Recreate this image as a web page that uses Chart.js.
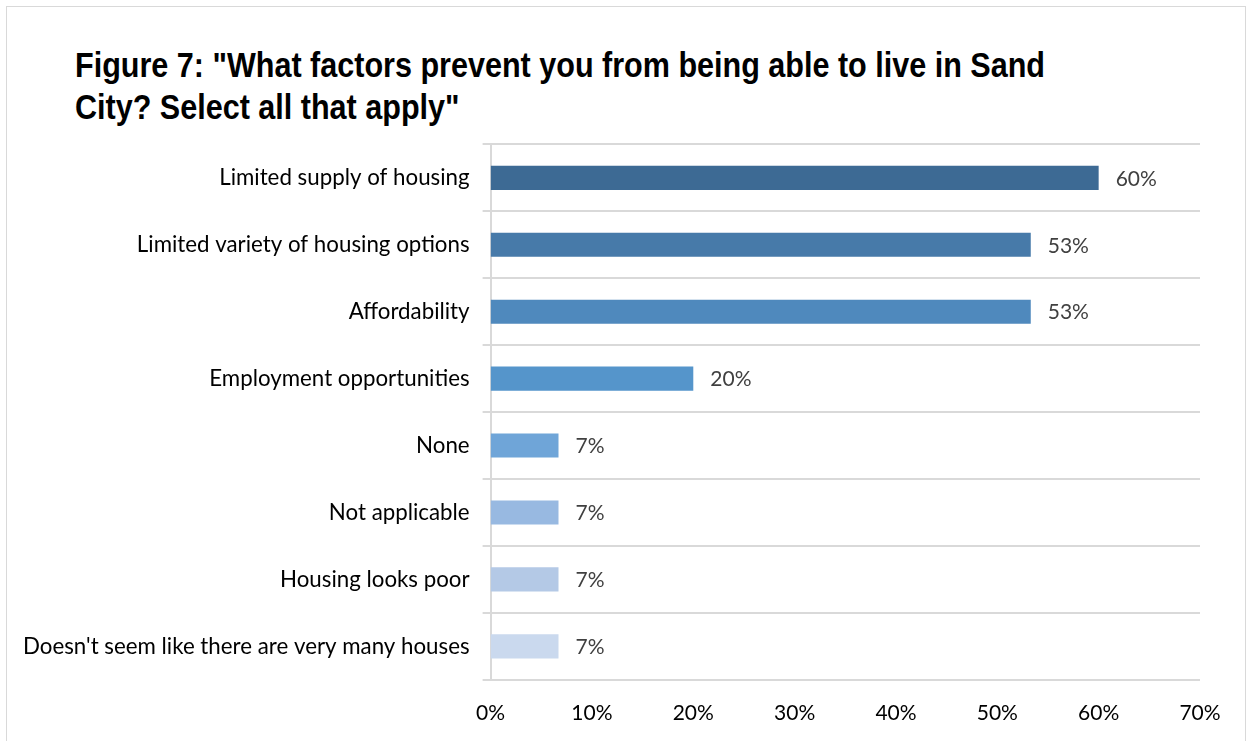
<!DOCTYPE html>
<html>
<head>
<meta charset="utf-8">
<script src="https://cdn.jsdelivr.net/npm/chart.js@4.4.0/dist/chart.umd.min.js"></script>
<style>
  html, body { margin: 0; padding: 0; background: #fff; overflow: hidden; }
  #frame { position: absolute; left: 6px; top: 6px; width: 1238px; height: 760px; border: 1px solid #d9d9d9; }
  .tline {
    position: absolute; left: 75px; white-space: nowrap;
    font-family: "Liberation Sans Narrow", "Arial Narrow", "Liberation Sans", Arial, sans-serif;
    font-weight: bold; font-size: 35px; line-height: 35px; color: #000;
    transform-origin: 0 0;
  }
  #wrap { position: absolute; left: 0; top: 118px; width: 1251px; height: 643px; }
</style>
</head>
<body>
<div id="frame"></div>
<div class="tline" id="t1" style="top:47px">Figure 7: "What factors prevent you from being able to live in Sand</div>
<div class="tline" id="t2" style="top:89px">City? Select all that apply"</div>
<div id="wrap"><canvas id="chart"></canvas></div>
<script>
var categories = [
    'Limited supply of housing',
    'Limited variety of housing options',
    'Affordability',
    'Employment opportunities',
    'None',
    'Not applicable',
    'Housing looks poor',
    "Doesn't seem like there are very many houses"
];
var shares = [60, 53.3, 53.3, 20, 6.7, 6.7, 6.7, 6.7];
var barColors = ['#3d6a94', '#477aa9', '#4f89bd', '#5595cb', '#6fa5d8', '#98b9e1', '#b4c9e6', '#cad9ee'];
var xTicks = [0, 10, 20, 30, 40, 50, 60, 70];

var labelFont = '"Lato", "Carlito", "Open Sans", sans-serif';

// squeeze the title to a condensed look (no narrow face installed)
(function () {
    var t1 = document.getElementById('t1');
    var t2 = document.getElementById('t2');
    var k = 970 / t1.getBoundingClientRect().width;
    t1.style.transform = 'scaleX(' + k + ')';
    t2.style.transform = 'scaleX(' + k + ')';
})();

// value labels at the end of each bar
var valueLabels = {
    id: 'valueLabels',
    afterDatasetsDraw: function (chart) {
        var ctx = chart.ctx;
        var meta = chart.getDatasetMeta(0);
        ctx.save();
        ctx.font = '21px ' + labelFont;
        ctx.fillStyle = '#404040';
        ctx.textAlign = 'left';
        ctx.textBaseline = 'middle';
        meta.data.forEach(function (bar, i) {
            ctx.fillText(Math.round(shares[i]) + '%', bar.x + 17, bar.y + 1);
        });
        ctx.restore();
    }
};

var ctx = document.getElementById('chart').getContext('2d');
new Chart(ctx, {
    type: 'bar',
    data: {
        labels: categories,
        datasets: [{
            data: shares,
            backgroundColor: barColors,
            borderWidth: 0,
            barPercentage: 0.36,
            categoryPercentage: 1
        }]
    },
    options: {
        indexAxis: 'y',
        responsive: true,
        maintainAspectRatio: false,
        animation: false,
        layout: { padding: { top: 0, right: 51, bottom: 14, left: 10 } },
        plugins: {
            legend: { display: false },
            tooltip: { enabled: false }
        },
        scales: {
            x: {
                min: 0,
                max: 70,
                afterBuildTicks: function (axis) {
                    axis.ticks = xTicks.map(function (v) { return { value: v }; });
                },
                grid: { display: false, drawTicks: false },
                border: { display: false },
                ticks: {
                    padding: 21,
                    color: '#000',
                    font: { family: labelFont, size: 21 },
                    callback: function (v) { return v + '%'; }
                }
            },
            y: {
                grid: {
                    offset: true,
                    color: '#d9d9d9',
                    lineWidth: 2,
                    drawTicks: true,
                    tickLength: 8
                },
                border: { display: true, color: '#d9d9d9', width: 2 },
                ticks: {
                    padding: 13,
                    color: '#000',
                    font: { family: labelFont, size: 22.3 }
                }
            }
        }
    },
    plugins: [valueLabels]
});
</script>
</body>
</html>
